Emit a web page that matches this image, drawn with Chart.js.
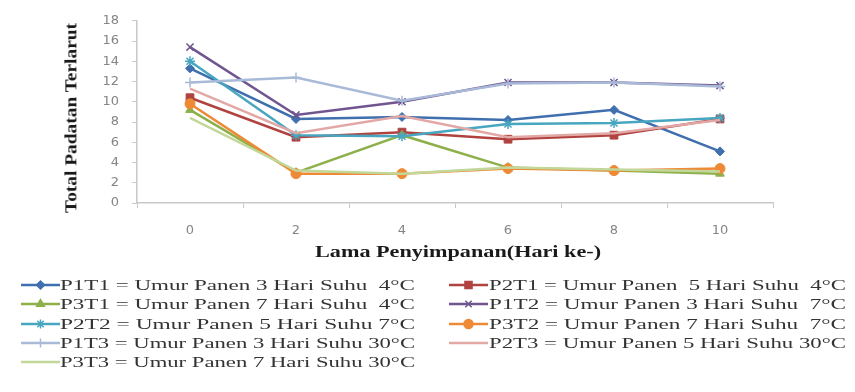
<!DOCTYPE html>
<html>
<head>
<meta charset="utf-8">
<script src="https://cdn.jsdelivr.net/npm/chart.js@4.4.1/dist/chart.umd.min.js"></script>
<style>
  html, body { margin: 0; padding: 0; background: #fff; }
  #wrap { position: relative; width: 855px; height: 392px; overflow: hidden; }
  #c { position: absolute; left: 0; top: 0; }
  .txt { position: absolute; white-space: pre; font-family: "Liberation Serif", "Times New Roman", serif; color: #1a1a1a; transform-origin: 0 50%; line-height: 1; }
  .ttl { font-weight: bold; font-size: 16px; }
  .leg { position: absolute; }
  .leg canvas { position: absolute; left: 0; top: 0; }
  .leg span { position: absolute; white-space: pre; font-family: "Liberation Serif", "Times New Roman", serif; font-size: 15.5px; color: #333; transform-origin: 0 50%; line-height: 1; }
</style>
</head>
<body>
<div id="wrap">
  <canvas id="c" width="855" height="392"></canvas>
</div>
<script>
// Storage day (Hari ke-)
const days = ['0', '2', '4', '6', '8', '10'];

// Total dissolved solids per treatment
const p1t1 = [13.3, 8.3, 8.5, 8.2, 9.2, 5.1];
const p2t1 = [10.4, 6.5, 7.0, 6.3, 6.7, 8.3];
const p3t1 = [9.2, 3.0, 6.7, 3.5, 3.2, 2.9];
const p1t2 = [15.4, 8.7, 10.0, 11.9, 11.9, 11.6];
const p2t2 = [14.0, 6.7, 6.6, 7.8, 7.9, 8.4];
const p3t2 = [9.8, 2.9, 2.9, 3.4, 3.2, 3.4];
const p1t3 = [11.9, 12.4, 10.1, 11.8, 11.9, 11.5];
const p2t3 = [11.3, 6.9, 8.6, 6.5, 6.9, 8.2];
const p3t3 = [8.4, 3.2, 2.9, 3.5, 3.3, 3.1];

const seriesLabels = [
  'P1T1 = Umur Panen 3 Hari Suhu  4°C',
  'P2T1 = Umur Panen  5 Hari Suhu  4°C',
  'P3T1 = Umur Panen 7 Hari Suhu  4°C',
  'P1T2 = Umur Panen 3 Hari Suhu  7°C',
  'P2T2 = Umur Panen 5 Hari Suhu 7°C',
  'P3T2 = Umur Panen 7 Hari Suhu  7°C',
  'P1T3 = Umur Panen 3 Hari Suhu 30°C',
  'P2T3 = Umur Panen 5 Hari Suhu 30°C',
  'P3T3 = Umur Panen 7 Hari Suhu 30°C'
];
const yTicks = [0, 2, 4, 6, 8, 10, 12, 14, 16, 18];

const seriesData = [p1t1, p2t1, p3t1, p1t2, p2t2, p3t2, p1t3, p2t3, p3t3];
const colors = ['#3F6FAE', '#B04340', '#8DB04B', '#70558F', '#48A6C0', '#EE8A35', '#A8BAD8', '#E2A8A6', '#C2D89B'];
const markers = ['rectRot', 'rect', 'triangle', 'crossRot', 'star', 'circle', 'cross', false, false];
const radii = [4.5, 5.5, 5, 5, 5, 5, 5, 0, 0];

const datasets = seriesData.map((d, i) => ({
  label: seriesLabels[i],
  data: d,
  borderColor: colors[i],
  backgroundColor: colors[i],
  borderWidth: 2.5,
  pointStyle: markers[i],
  pointRadius: radii[i],
  pointBorderWidth: markers[i] === 'crossRot' || markers[i] === 'cross' || markers[i] === 'star' ? 1.5 : 1,
  pointBorderColor: colors[i],
  pointBackgroundColor: colors[i],
  tension: 0,
  order: seriesData.length - i
}));

const axisGray = '#c8c8c8';
const tickFont = { family: 'DejaVu Sans', size: 13 };

new Chart(document.getElementById('c'), {
  type: 'line',
  data: { labels: days, datasets },
  options: {
    responsive: false,
    animation: false,
    devicePixelRatio: 1,
    layout: { padding: { left: 60, top: 19, right: 82, bottom: 130 } },
    plugins: { legend: { display: false }, tooltip: { enabled: false } },
    scales: {
      x: {
        type: 'category',
        offset: true,
        grid: { display: true, drawOnChartArea: false, offset: true, color: axisGray, tickLength: 5, lineWidth: 1 },
        border: { color: axisGray, width: 1.5 },
        ticks: { color: '#858585', font: tickFont, padding: 15 },
        afterFit: (s) => { s.height = 59; }
      },
      y: {
        min: 0, max: 18,
        afterBuildTicks: (s) => { s.ticks = yTicks.map(v => ({ value: v })); },
        grid: { display: true, drawOnChartArea: false, color: axisGray, tickLength: 5 },
        border: { color: axisGray, width: 1.5 },
        ticks: { color: '#858585', font: tickFont, padding: 13 },
        afterFit: (s) => { s.width = 77; }
      }
    }
  }
});

const wrap = document.getElementById('wrap');

// Place a text node and stretch it horizontally to a target width
function placeText(el, targetW) {
  const w = el.getBoundingClientRect().width;
  if (w > 0 && targetW) el.style.transform = 'scaleX(' + (targetW / w).toFixed(3) + ')';
}

// Axis titles
const xt = document.createElement('div');
xt.className = 'txt ttl';
xt.textContent = 'Lama Penyimpanan(Hari ke-)';
xt.style.left = '315px';
xt.style.top = '244px';
wrap.appendChild(xt);
placeText(xt, 286);

const yt = document.createElement('div');
yt.className = 'txt ttl';
yt.textContent = 'Total Padatan Terlarut';
wrap.appendChild(yt);
{
  const w = yt.getBoundingClientRect().width;
  const h = yt.getBoundingClientRect().height;
  const len = 190;
  // rotate about its centre, centred at (71, 118)
  yt.style.transformOrigin = '50% 50%';
  yt.style.left = (71 - w / 2) + 'px';
  yt.style.top = (118 - h / 2) + 'px';
  yt.style.transform = 'rotate(-90deg) scaleX(' + (len / w).toFixed(3) + ')';
}

// Two-column legend
const legPos = [
  [20, 285], [448, 285],
  [20, 304], [448, 304],
  [20, 324], [448, 324],
  [20, 343], [448, 343],
  [20, 362]
];
const legOrder = [0, 1, 2, 3, 4, 5, 6, 7, 8];
legOrder.forEach((si, k) => {
  const [lx, ly] = legPos[k];
  const item = document.createElement('div');
  item.className = 'leg';
  item.style.left = lx + 'px';
  item.style.top = (ly - 8) + 'px';
  const cv = document.createElement('canvas');
  cv.width = 42; cv.height = 16;
  item.appendChild(cv);
  const ctx = cv.getContext('2d');
  ctx.strokeStyle = colors[si];
  ctx.lineWidth = 2.5;
  ctx.beginPath(); ctx.moveTo(1, 8); ctx.lineTo(40, 8); ctx.stroke();
  if (markers[si]) {
    ctx.fillStyle = colors[si];
    ctx.lineWidth = 1.5;
    Chart.helpers.drawPoint(ctx, { pointStyle: markers[si], radius: radii[si] - 0.5, rotation: 0, borderWidth: 1.5 }, 20.5, 8);
  }
  const sp = document.createElement('span');
  sp.textContent = seriesLabels[si];
  sp.style.left = (si % 2 === 0 ? 40 : 41) + 'px';
  sp.style.top = '0px';
  item.appendChild(sp);
  wrap.appendChild(item);
  placeText(sp, si % 2 === 0 ? 355 : 357);
});
</script>
</body>
</html>
